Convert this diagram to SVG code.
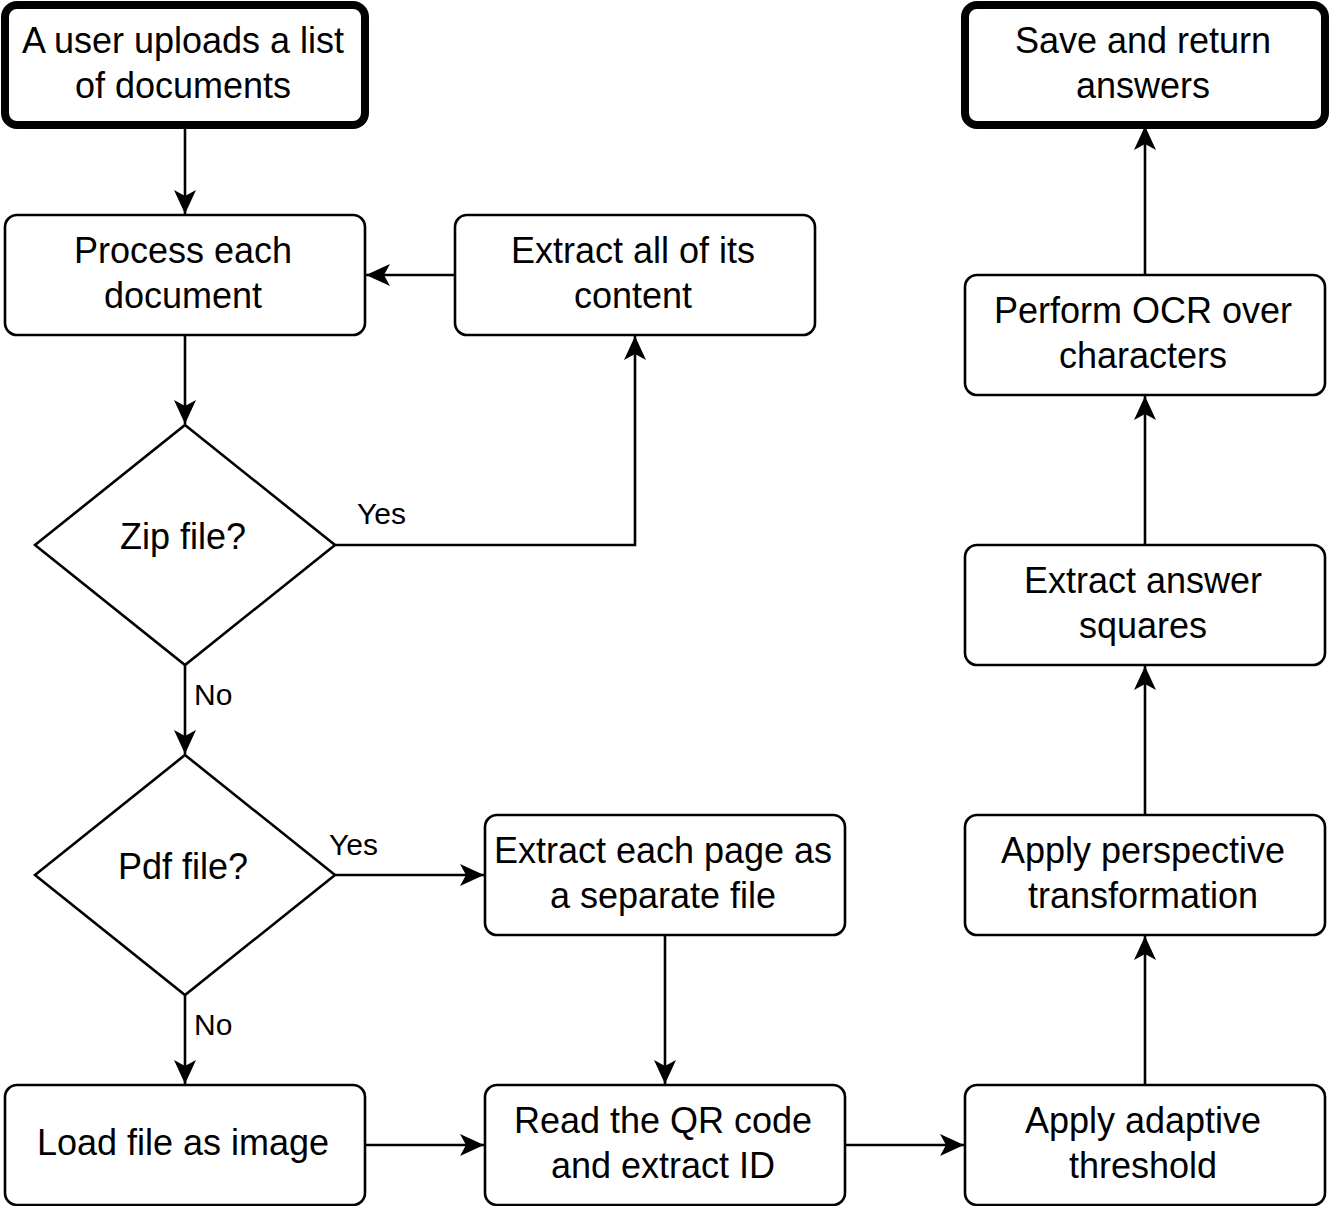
<svg xmlns="http://www.w3.org/2000/svg" width="1329" height="1206" viewBox="0 0 1329 1206">
<style>
.box{fill:#fff;stroke:#000;stroke-width:2.6}
.term{fill:#fff;stroke:#000;stroke-width:8}
.t{font-family:"Liberation Sans",Arial,sans-serif;font-size:36px;fill:#000;text-anchor:middle}
.lbl{font-family:"Liberation Sans",Arial,sans-serif;font-size:30px;fill:#000}
.edge{fill:none;stroke:#000;stroke-width:2.6}
</style>
<defs>
<marker id="arr" markerUnits="userSpaceOnUse" viewBox="0 0 24 22" markerWidth="24" markerHeight="22" refX="24" refY="11" orient="auto">
<path d="M24,11 L0,0 L6,11 L0,22 Z" fill="#000"/>
</marker>
</defs>
<rect width="1329" height="1206" fill="#fff"/>
<g id="connectors">
<path class="edge" d="M185,129 L185,214" marker-end="url(#arr)"/>
<path class="edge" d="M455,275 L366,275" marker-end="url(#arr)"/>
<path class="edge" d="M185,335 L185,424" marker-end="url(#arr)"/>
<path class="edge" d="M335,545 L635,545 L635,336" marker-end="url(#arr)"/>
<path class="edge" d="M185,665 L185,754" marker-end="url(#arr)"/>
<path class="edge" d="M335,875 L484,875" marker-end="url(#arr)"/>
<path class="edge" d="M185,995 L185,1084" marker-end="url(#arr)"/>
<path class="edge" d="M665,935 L665,1084" marker-end="url(#arr)"/>
<path class="edge" d="M365,1145 L484,1145" marker-end="url(#arr)"/>
<path class="edge" d="M845,1145 L964,1145" marker-end="url(#arr)"/>
<path class="edge" d="M1145,1085 L1145,936" marker-end="url(#arr)"/>
<path class="edge" d="M1145,815 L1145,666" marker-end="url(#arr)"/>
<path class="edge" d="M1145,545 L1145,396" marker-end="url(#arr)"/>
<path class="edge" d="M1145,275 L1145,126" marker-end="url(#arr)"/>
<text class="lbl" x="357" y="524">Yes</text>
<text class="lbl" x="194" y="705">No</text>
<text class="lbl" x="329" y="855">Yes</text>
<text class="lbl" x="194" y="1035">No</text>
</g>
<g id="start">
<rect class="term" x="5" y="5" width="360" height="120" rx="12"/>
<text class="t" x="183" y="53">A user uploads a list</text>
<text class="t" x="183" y="98">of documents</text>
</g>
<g id="process">
<rect class="box" x="5" y="215" width="360" height="120" rx="12"/>
<text class="t" x="183" y="263">Process each</text>
<text class="t" x="183" y="308">document</text>
</g>
<g id="extractAll">
<rect class="box" x="455" y="215" width="360" height="120" rx="12"/>
<text class="t" x="633" y="263">Extract all of its</text>
<text class="t" x="633" y="308">content</text>
</g>
<g id="zip">
<path class="box" d="M185,425 L335,545 L185,665 L35,545 Z"/>
<text class="t" x="183" y="549">Zip file?</text>
</g>
<g id="pdf">
<path class="box" d="M185,755 L335,875 L185,995 L35,875 Z"/>
<text class="t" x="183" y="879">Pdf file?</text>
</g>
<g id="extractPages">
<rect class="box" x="485" y="815" width="360" height="120" rx="12"/>
<text class="t" x="663" y="863">Extract each page as</text>
<text class="t" x="663" y="908">a separate file</text>
</g>
<g id="loadImage">
<rect class="box" x="5" y="1085" width="360" height="120" rx="12"/>
<text class="t" x="183" y="1155">Load file as image</text>
</g>
<g id="readQR">
<rect class="box" x="485" y="1085" width="360" height="120" rx="12"/>
<text class="t" x="663" y="1133">Read the QR code</text>
<text class="t" x="663" y="1178">and extract ID</text>
</g>
<g id="threshold">
<rect class="box" x="965" y="1085" width="360" height="120" rx="12"/>
<text class="t" x="1143" y="1133">Apply adaptive</text>
<text class="t" x="1143" y="1178">threshold</text>
</g>
<g id="perspective">
<rect class="box" x="965" y="815" width="360" height="120" rx="12"/>
<text class="t" x="1143" y="863">Apply perspective</text>
<text class="t" x="1143" y="908">transformation</text>
</g>
<g id="squares">
<rect class="box" x="965" y="545" width="360" height="120" rx="12"/>
<text class="t" x="1143" y="593">Extract answer</text>
<text class="t" x="1143" y="638">squares</text>
</g>
<g id="ocr">
<rect class="box" x="965" y="275" width="360" height="120" rx="12"/>
<text class="t" x="1143" y="323">Perform OCR over</text>
<text class="t" x="1143" y="368">characters</text>
</g>
<g id="save">
<rect class="term" x="965" y="5" width="360" height="120" rx="12"/>
<text class="t" x="1143" y="53">Save and return</text>
<text class="t" x="1143" y="98">answers</text>
</g>
</svg>
